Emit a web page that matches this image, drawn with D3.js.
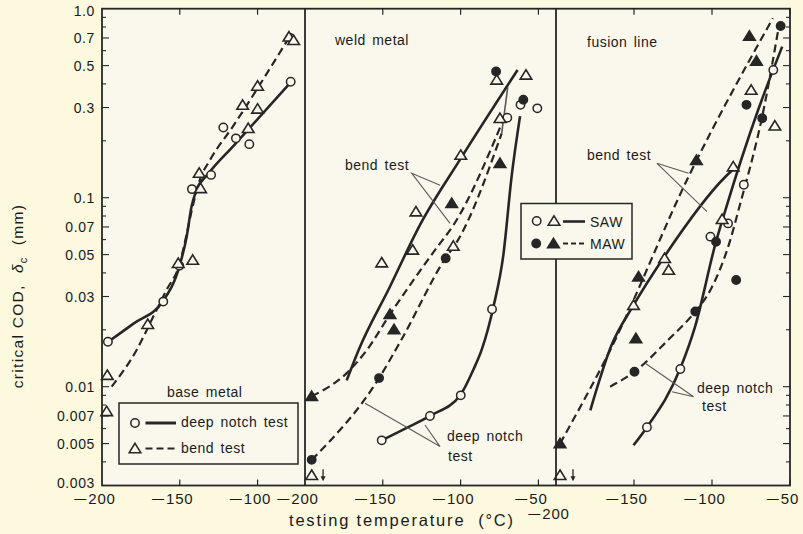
<!DOCTYPE html>
<html><head><meta charset="utf-8">
<script src="https://cdn.jsdelivr.net/npm/d3@7"></script>
<style>
body{margin:0;background:#fcf9de;}
svg{display:block;font-family:"Liberation Sans",Arial,sans-serif;}
</style></head><body>
<svg id="c" width="803" height="534"></svg>
<script>
// ---------- data ----------
const yTickValues = [1.0,0.7,0.5,0.3,0.1,0.07,0.05,0.03,0.01,0.007,0.005,0.003];
const yTickLabels = ["1.0","0.7","0.5","0.3","0.1","0.07","0.05","0.03","0.01","0.007","0.005","0.003"];
const yMinorTicks = [0.004,0.006,0.008,0.009,0.02,0.04,0.06,0.08,0.09,0.2,0.4,0.6,0.8,0.9];
const panelNames = ["base metal","weld metal","fusion line"];
const baseXTicks = [-200,-150,-100];
const weldXTicks = [-200,-150,-100,-50];
const fusionXTicks = [-200,-150,-100,-50];

// base metal
const baseNotchPts = [[-196.2,0.0173],[-160.6,0.0282],[-150.3,0.0437],[-142.2,0.111],[-129.9,0.132],[-122,0.235],[-113.9,0.206],[-105.3,0.192],[-78.7,0.411],[-79,0.70]];
const baseBendPts = [[-197,0.0074],[-196.6,0.0115],[-170.6,0.0214],[-151,0.045],[-141.7,0.0468],[-136.6,0.112],[-137.5,0.135],[-106,0.233],[-100,0.295],[-109.6,0.309],[-100,0.39],[-79.8,0.71],[-76.8,0.68]];
const baseNotchCurve = [[-196,0.0173],[-180,0.0215],[-160.6,0.0285],[-150,0.044],[-145.6,0.062],[-142.4,0.09],[-139.2,0.11],[-132,0.133],[-115,0.19],[-79,0.405]];
const baseBendCurve = [[-193.8,0.0100],[-178,0.0155],[-167,0.0235],[-158.5,0.0325],[-150,0.045],[-145.6,0.064],[-142.4,0.085],[-137,0.125],[-130.6,0.158],[-115.6,0.24],[-79,0.72]];

// weld metal
const weldSawNotchPts = [[-150.7,0.0052],[-119.7,0.0070],[-99.9,0.0090],[-79.8,0.0257],[-70,0.265],[-61.5,0.31],[-50.7,0.297]];
const weldSawBendPts = [[-195.7,0.0034],[-150.7,0.0453],[-130.8,0.0529],[-128.7,0.0843],[-104.7,0.0555],[-99.9,0.168],[-74.7,0.263],[-76.8,0.42],[-58,0.446]];
const weldMawNotchPts = [[-195.7,0.0041],[-152.4,0.0111],[-109.6,0.0478],[-77.2,0.465],[-59.7,0.33]];
const weldMawBendPts = [[-195.7,0.0089],[-145.4,0.0242],[-142.8,0.0201],[-105.7,0.0934],[-74.7,0.152]];
const weldSawBendCurve = [[-173.2,0.0108],[-165.6,0.0156],[-145.6,0.0336],[-126,0.072],[-100.6,0.158],[-63.4,0.474]];
const weldSawNotchCurve = [[-150.7,0.0052],[-135.6,0.0060],[-119.7,0.0070],[-99.9,0.0091],[-91.8,0.0123],[-86.1,0.0160],[-78.9,0.0265],[-72.5,0.05],[-67.2,0.13],[-61.8,0.27]];
const weldMawBendCurve = [[-195.7,0.0089],[-173.2,0.0118],[-160.3,0.0156],[-145.3,0.0242],[-115.6,0.054],[-104.6,0.0716],[-72.6,0.258]];
const weldMawNotchCurve = [[-195.7,0.0041],[-152.4,0.0111],[-138.1,0.0177],[-109.6,0.048],[-102.6,0.058],[-73.6,0.219]];
const weldMawTopLink = [[-73.6,0.219],[-69.7,0.385]];
const weldBendLeader = [[-113.2,0.1164],[-131.4,0.1346],[-106.8,0.0732]];
const weldNotchLeader = [[-161.4,0.00817],[-113.2,0.00482],[-122.9,0.00627]];
const weldArrow = [-188.4,0.0034];

// fusion line
const fusionSawNotchPts = [[-141.7,0.0061],[-120.3,0.0124],[-101,0.0622],[-89.7,0.0731],[-79.6,0.117],[-60.7,0.474]];
const fusionSawBendPts = [[-197.4,0.0034],[-150.3,0.027],[-130.4,0.0478],[-127.8,0.0414],[-93.5,0.0769],[-86.4,0.146],[-74.9,0.371],[-59.7,0.24]];
const fusionMawNotchPts = [[-149.7,0.012],[-110.7,0.025],[-97.4,0.0585],[-84.5,0.0367],[-77.9,0.31],[-67.8,0.263],[-56,0.81]];
const fusionMawBendPts = [[-197.4,0.005],[-148.8,0.018],[-147.1,0.0382],[-110,0.158],[-76,0.717],[-71.5,0.529]];
const fusionSawBendCurve = [[-178,0.0075],[-164.5,0.0165],[-150.3,0.027],[-130.4,0.049],[-91.4,0.129],[-84,0.147]];
const fusionSawNotchCurve = [[-150.3,0.0049],[-141.7,0.0061],[-120.5,0.0124],[-110.7,0.021],[-97.8,0.057],[-91.4,0.086],[-70.5,0.29],[-55,0.63]];
const fusionMawBendCurve = [[-197.4,0.005],[-165.3,0.0156],[-114.5,0.132],[-61,0.89]];
const fusionMawNotchCurve = [[-165.3,0.0100],[-149.7,0.012],[-128,0.0177],[-111.8,0.0244],[-101,0.0325],[-88.2,0.06],[-83,0.086],[-67,0.29],[-57,0.82]];
const fusionBendLeader = [[-115,0.1346],[-135.3,0.152],[-103.2,0.0843]];
const fusionNotchLeader = [[-142.8,0.0133],[-111.8,0.00885],[-125.6,0.0094]];
const fusionArrow = [-189.1,0.0034];

// ---------- drawing ----------
(function(){
const svg = d3.select("#c");
const INK = "#262626", PLOTBG = "#faf8ec";
const Y = d3.scaleLog().domain([0.003,1.0]).range([485.5,8.7]);
const panels = [
  {domain:[-200,-69.5], range:[102,305], ticks:baseXTicks},
  {domain:[-200,-38.7], range:[305,556], ticks:weldXTicks},
  {domain:[-200,-50],   range:[556,790], ticks:fusionXTicks}
];
panels.forEach(p => p.x = d3.scaleLinear().domain(p.domain).range(p.range));
const yTop = Y(1), yBot = Y(0.003);

svg.append("rect").attr("x",102).attr("y",yTop).attr("width",790-102).attr("height",yBot-yTop).attr("fill",PLOTBG);

const line = (p) => d3.line().x(d=>p.x(d[0])).y(d=>Y(d[1])).curve(d3.curveMonotoneX);
const lin = (p) => d3.line().x(d=>p.x(d[0])).y(d=>Y(d[1]));

function curve(p, data, dashed){
  svg.append("path").attr("d", line(p)(data)).attr("fill","none").attr("stroke",INK)
    .attr("stroke-width", dashed?2.2:2.6).attr("stroke-dasharray", dashed?"8,4.5":null).attr("stroke-linecap","butt");
}
function leader(p, data, w){
  svg.append("path").attr("d", lin(p)(data)).attr("fill","none").attr("stroke","#5a5a5a").attr("stroke-width",w||1.1);
}
const triPath = "M0,-5.2L5.8,4.2L-5.8,4.2Z";
function marker(cx, cy, shape, filled){
  if(shape==="c"){
    svg.append("circle").attr("cx",cx).attr("cy",cy).attr("r",4.2)
      .attr("fill",filled?INK:PLOTBG).attr("stroke",INK).attr("stroke-width",1.5);
  } else {
    svg.append("path").attr("d",triPath).attr("transform",`translate(${cx},${cy})`)
      .attr("fill",filled?INK:PLOTBG).attr("stroke",INK).attr("stroke-width",1.6).attr("stroke-linejoin","miter");
  }
}
function points(p, data, shape, filled){
  data.forEach(d => marker(p.x(d[0]), Y(d[1]), shape, filled));
}
function downArrow(p, d){
  const x = p.x(d[0]), y = Y(d[1]);
  svg.append("line").attr("x1",x).attr("x2",x).attr("y1",y-6).attr("y2",y+4).attr("stroke",INK).attr("stroke-width",1.3);
  svg.append("path").attr("d",`M${x-2.5},${y+1}L${x+2.5},${y+1}L${x},${y+6}Z`).attr("fill",INK);
}
function text(x, y, s, size, anchor){
  return svg.append("text").attr("x",x).attr("y",y).attr("font-size",size||14)
    .attr("text-anchor",anchor||"start").attr("fill","#1a1a1a").attr("letter-spacing",0.5)
    .attr("word-spacing",2).text(s);
}

const P1 = panels[0], P2 = panels[1], P3 = panels[2];
curve(P1, baseNotchCurve, false);
curve(P1, baseBendCurve, true);
points(P1, baseNotchPts, "c", false);
points(P1, baseBendPts, "t", false);

curve(P2, weldSawBendCurve, false);
curve(P2, weldSawNotchCurve, false);
curve(P2, weldMawBendCurve, true);
curve(P2, weldMawNotchCurve, true);
leader(P2, weldMawTopLink, 1.6);
leader(P2, weldBendLeader);
leader(P2, weldNotchLeader);
points(P2, weldSawNotchPts, "c", false);
points(P2, weldSawBendPts, "t", false);
points(P2, weldMawNotchPts, "c", true);
points(P2, weldMawBendPts, "t", true);
downArrow(P2, weldArrow);

curve(P3, fusionMawBendCurve, true);
curve(P3, fusionMawNotchCurve, true);
curve(P3, fusionSawBendCurve, false);
curve(P3, fusionSawNotchCurve, false);
leader(P3, fusionBendLeader);
leader(P3, fusionNotchLeader);
points(P3, fusionSawNotchPts, "c", false);
points(P3, fusionSawBendPts, "t", false);
points(P3, fusionMawNotchPts, "c", true);
points(P3, fusionMawBendPts, "t", true);
downArrow(P3, fusionArrow);

svg.append("rect").attr("x",102).attr("y",yTop).attr("width",790-102).attr("height",yBot-yTop)
  .attr("fill","none").attr("stroke",INK).attr("stroke-width",1.8);
[305,556].forEach(x => svg.append("line").attr("x1",x).attr("x2",x).attr("y1",yTop).attr("y2",yBot)
  .attr("stroke",INK).attr("stroke-width",1.8));

const yAll = yTickValues.map(v=>[v,7]).concat(yMinorTicks.map(v=>[v,4]));
yAll.forEach(([v,len]) => {
  const y = Y(v);
  if (v===1 || v===0.003) return;
  svg.append("line").attr("x1",102).attr("x2",102+len).attr("y1",y).attr("y2",y).attr("stroke",INK).attr("stroke-width",1.1);
  svg.append("line").attr("x1",790).attr("x2",790-len).attr("y1",y).attr("y2",y).attr("stroke",INK).attr("stroke-width",1.1);
});
yTickValues.forEach((v,i) => {
  const shift = (v===0.003) ? -2.5 : (v===1.0 ? 2 : 0);
  svg.append("text").attr("x",95).attr("y",Y(v)+shift).attr("dy","0.36em").attr("text-anchor","end")
    .attr("font-size",14).attr("letter-spacing",0.6).attr("fill","#1a1a1a").text(yTickLabels[i]);
});

panels.forEach((p,pi) => {
  p.ticks.forEach(t => {
    const x = p.x(t);
    if (t !== -200) {
      svg.append("line").attr("x1",x).attr("x2",x).attr("y1",yBot).attr("y2",yBot-6).attr("stroke",INK).attr("stroke-width",1.2);
      svg.append("line").attr("x1",x).attr("x2",x).attr("y1",yTop).attr("y2",yTop+6).attr("stroke",INK).attr("stroke-width",1.2);
    }
    const yb = (pi===2 && t===-200) ? 519 : 504;
    const d = svg.append("text").attr("x",x).attr("y",yb).attr("text-anchor","middle")
      .attr("font-size",15).attr("letter-spacing",0.8).attr("fill","#1a1a1a").text(String(Math.abs(t)));
    const w = d.node().getComputedTextLength();
    svg.append("text").attr("x",x - w/2 - 2).attr("y",yb-1).attr("text-anchor","end")
      .attr("font-size",12).attr("fill","#1a1a1a").text("\u2014");
  });
});

text(167, 397, panelNames[0]);
text(335, 45, panelNames[1]);
text(587, 47, panelNames[2]);
text(345, 170, "bend test");
text(447, 441, "deep notch");
text(448, 461, "test");
text(587, 160, "bend test");
text(697, 393, "deep notch");
text(702, 411, "test");

svg.append("rect").attr("x",119).attr("y",403).attr("width",179).attr("height",61)
  .attr("fill",PLOTBG).attr("stroke",INK).attr("stroke-width",1.5);
marker(135, 423, "c", false);
svg.append("line").attr("x1",145.5).attr("x2",176).attr("y1",423).attr("y2",423).attr("stroke",INK).attr("stroke-width",3);
text(181, 427, "deep notch test");
marker(135, 448.5, "t", false);
svg.append("line").attr("x1",145.5).attr("x2",176).attr("y1",448.5).attr("y2",448.5).attr("stroke",INK).attr("stroke-width",2.2).attr("stroke-dasharray","7,4");
text(181, 452.5, "bend test");

svg.append("rect").attr("x",521).attr("y",203.5).attr("width",111).attr("height",55.5)
  .attr("fill",PLOTBG).attr("stroke",INK).attr("stroke-width",1.5);
marker(536.7, 221, "c", false);
marker(554, 221, "t", false);
svg.append("line").attr("x1",563).attr("x2",585).attr("y1",221.5).attr("y2",221.5).attr("stroke",INK).attr("stroke-width",2.6);
text(590, 226.5, "SAW");
marker(536.2, 243.5, "c", true);
marker(553.5, 243.5, "t", true);
svg.append("line").attr("x1",563).attr("x2",585).attr("y1",243.5).attr("y2",243.5).attr("stroke",INK).attr("stroke-width",2.2).attr("stroke-dasharray","5,3");
text(590, 249, "MAW");

svg.append("text").attr("x",289).attr("y",526).attr("font-size",16.5).attr("letter-spacing",1.8)
  .attr("fill","#1a1a1a").style("white-space","pre").text("testing temperature  (\u00B0C)");
const yt = svg.append("text").attr("transform","translate(23,296) rotate(-90)").attr("text-anchor","middle")
  .attr("font-size",15.5).attr("letter-spacing",1.3).attr("fill","#1a1a1a").style("white-space","pre");
yt.append("tspan").text("critical COD,  ");
yt.append("tspan").attr("font-style","italic").text("\u03B4");
yt.append("tspan").attr("font-size",11).attr("dy",4).text("c");
yt.append("tspan").attr("dy",-4).text("  (mm)");
})();
</script></body></html>
